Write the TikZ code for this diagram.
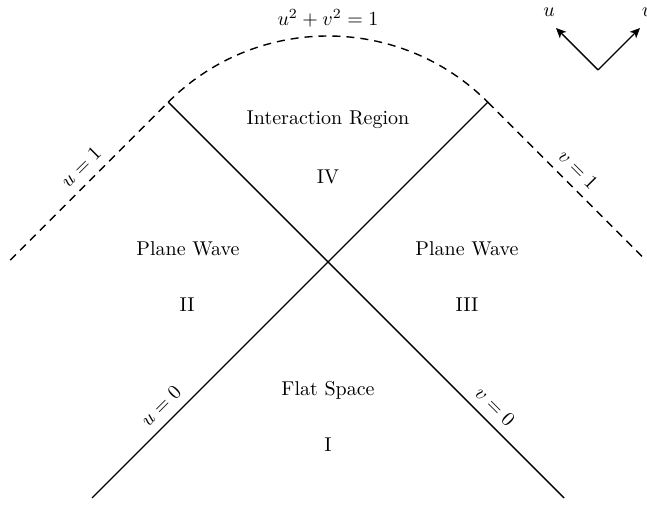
\documentclass[tikz,border=0pt]{standalone}
\usepackage{fontspec}
\usetikzlibrary{arrows.meta,calc}
\begin{document}
\begin{tikzpicture}[x=0.5pt,y=-0.5pt,
  every node/.style={font=\normalsize, inner sep=2pt},
  solidline/.style={line width=0.7pt},
  dashline/.style={line width=0.7pt, dash pattern=on 4pt off 3pt},
  axisarrow/.style={line width=0.7pt, -{Stealth[length=5pt,width=4.5pt,inset=1.3pt]}},
  lbl/.style={sloped, above, inner sep=4.5pt}]
\useasboundingbox (0,0) rectangle (647,506);
\clip (0,0) rectangle (647,506);
% key points
\coordinate (O) at (328,262);
\coordinate (TL) at ($(O)+(-159.8,-159.8)$);
\coordinate (TR) at ($(O)+(159.8,-159.8)$);
\coordinate (BL) at ($(O)+(-236,236)$);
\coordinate (BR) at ($(O)+(236,236)$);
\coordinate (FL) at ($(TL)+(-158,158)$);
\coordinate (FR) at ($(TR)+(158,158)$);
% solid lines
\draw[solidline] (BL) -- node[lbl, pos=0.34] {$u=0$} (O) -- (TR);
\draw[solidline] (TL) -- (O) -- node[lbl, pos=0.66] {$v=0$} (BR);
% dashed boundaries
\draw[dashline] (FL) -- node[lbl, pos=0.52] {$u=1$} (TL);
\draw[dashline] (TR) -- node[lbl, pos=0.5] {$v=1$} (FR);
\draw[dashline] (TL) arc[start angle=225, end angle=315, radius=226];
% labels
\node (eq) at (328,18) {$u^2+v^2=1$};
\node (ir) at (328,120) {Interaction Region};
\node (iv) at (328,177) {IV};
\node (pw2) at (188,249) {Plane Wave};
\node (r2) at (187,305) {II};
\node (pw3) at (467,249) {Plane Wave};
\node (r3) at (467,305) {III};
\node (fs) at (328,390) {Flat Space};
\node (r1) at (328,445) {I};
% axes
\coordinate (A) at (598,70);
\coordinate (Au) at (556,28);
\coordinate (Av) at (640,28);
\draw[axisarrow] (A) -- (Au);
\draw[axisarrow] (A) -- (Av);
\node (ul) at (549,12) {$u$};
\node (vl) at (647,12) {$v$};
\end{tikzpicture}
\end{document}
